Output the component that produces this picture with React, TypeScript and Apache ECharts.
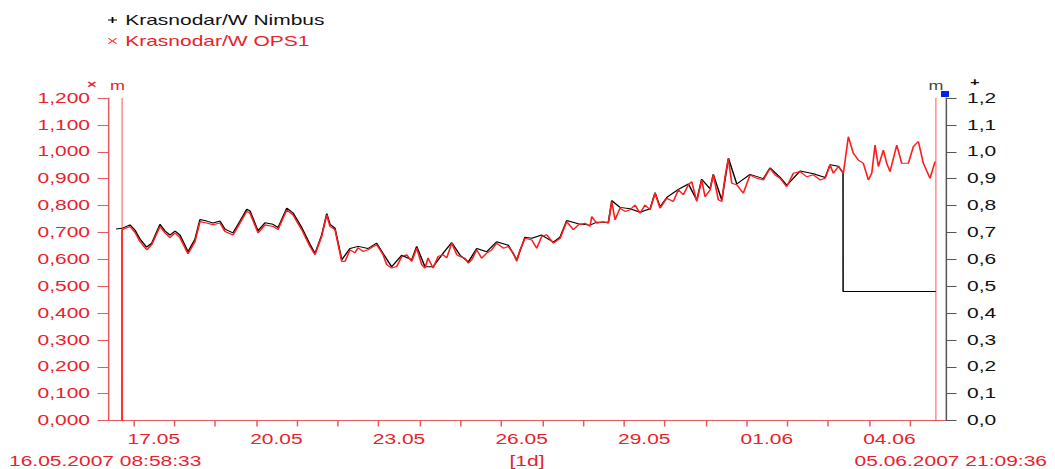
import React, { useEffect, useRef } from "react";
import * as echarts from "echarts";

// ---------- data ----------
const nimbusName = "Krasnodar/W Nimbus";
const opsName = "Krasnodar/W OPS1";
const startLabel = "16.05.2007 08:58:33";
const endLabel = "05.06.2007 21:09:36";
const periodLabel = "[1d]";

// hours after 16.05.2007 00:00
const START_HOUR = 8 + 58 / 60 + 33 / 3600;
const END_HOUR = 20 * 24 + 21 + 9 / 60 + 36 / 3600;

// tick positions (hours after 16.05.2007 00:00)
const labelTickHours = [24, 96, 168, 240, 312, 384, 456];
const dayTickHours = [24, 48, 72, 96, 120, 144, 168, 192, 216, 240, 264, 288, 312, 336, 360, 384, 408, 432, 456, 480];

// marker lines "m" (hours after series start)
const markerHours = [8.2, 486.3];

// OPS1 (hours after series start, value)
const opsHours = [
  8.22, 8.23, 12.92, 15.86, 18.8, 22.73, 25.67, 30.54, 33.48, 36.42,
  39.35, 42.29, 46.99, 51.1, 54.04, 57.97, 61.67, 65.78, 68.72, 73.42,
  77.53, 81.47, 83.41, 88.11, 92.22, 96.92, 99.86, 104.97, 108.66, 113.77,
  118.65, 121.59, 125.52, 128.46, 130.4, 133.33, 137.27, 139.21, 142.14, 145.08,
  146.84, 149.78, 152.72, 155.65, 157.83, 159.76, 161.53, 163.7, 166.64, 169.57,
  172.51, 175.45, 178.39, 181.32, 184.26, 186.2, 187.96, 190.9, 193.83, 196.77,
  198.94, 201.88, 204.82, 206.75, 209.69, 211.63, 213.63, 216.56, 219.5, 222.44,
  225.37, 228.31, 232.19, 235.13, 238.06, 240.06, 242.0, 244.94, 248.87, 251.81,
  254.74, 257.68, 261.56, 265.49, 269.43, 273.31, 276.24, 280.18, 283.11, 284.11,
  287.05, 290.93, 293.86, 295.86, 297.8, 300.73, 303.67, 306.61, 309.54, 312.48,
  315.42, 318.35, 321.29, 324.23, 328.16, 332.04, 334.98, 337.91, 340.85, 342.85,
  345.79, 348.72, 350.66, 353.6, 355.54, 358.48, 360.47, 362.41, 364.35, 366.35,
  369.28, 373.16, 377.09, 381.03, 384.91, 388.84, 391.78, 394.72, 398.65, 402.53,
  406.46, 410.4, 414.28, 418.21, 421.15, 424.08, 426.02, 428.96, 431.9, 434.83,
  437.77, 440.71, 443.64, 446.58, 448.58, 450.52, 452.46, 455.39, 457.39, 459.32,
  463.26, 466.2, 470.07, 473.01, 475.95, 478.89, 482.82, 485.76,
];
const opsValues = [
  0, 0.71, 0.722, 0.7, 0.666, 0.635, 0.654, 0.722, 0.698, 0.68,
  0.698, 0.68, 0.62, 0.666, 0.74, 0.735, 0.728, 0.735, 0.703, 0.69,
  0.735, 0.778, 0.772, 0.698, 0.728, 0.722, 0.71, 0.784, 0.765, 0.71,
  0.647, 0.617, 0.685, 0.765, 0.722, 0.71, 0.592, 0.592, 0.635, 0.624,
  0.643, 0.629, 0.635, 0.647, 0.654, 0.635, 0.617, 0.58, 0.567, 0.573,
  0.61, 0.617, 0.592, 0.641, 0.58, 0.567, 0.605, 0.567, 0.61, 0.617,
  0.605, 0.66, 0.617, 0.61, 0.604, 0.585, 0.598, 0.635, 0.604, 0.623,
  0.635, 0.66, 0.641, 0.647, 0.623, 0.592, 0.635, 0.678, 0.672, 0.641,
  0.685, 0.691, 0.66, 0.678, 0.74, 0.71, 0.728, 0.734, 0.722, 0.759,
  0.734, 0.74, 0.734, 0.815, 0.747, 0.79, 0.778, 0.784, 0.802, 0.771,
  0.802, 0.784, 0.846, 0.79, 0.827, 0.815, 0.858, 0.84, 0.877, 0.889,
  0.815, 0.895, 0.833, 0.858, 0.914, 0.821, 0.815, 0.907, 0.975, 0.883,
  0.877, 0.846, 0.914, 0.901, 0.895, 0.938, 0.914, 0.901, 0.87, 0.92,
  0.926, 0.907, 0.914, 0.895, 0.901, 0.951, 0.92, 0.945, 0.92, 1.056,
  0.994, 0.969, 0.957, 0.895, 0.92, 1.025, 0.945, 1.006, 0.957, 0.926,
  1.025, 0.957, 0.957, 1.019, 1.038, 0.957, 0.901, 0.963,
];

// Nimbus (hours after series start, value)
const nimbusHours = [
  4.7, 8.2, 12.9, 15.9, 18.8, 22.7, 25.7, 30.5, 33.5, 36.4,
  39.4, 42.3, 47.0, 51.1, 54.0, 58.0, 61.7, 65.8, 68.7, 73.4,
  77.5, 81.5, 83.4, 88.1, 92.2, 96.9, 99.9, 105.0, 108.7, 113.8,
  118.7, 121.6, 125.5, 128.5, 130.4, 133.3, 137.3, 142.1, 147.0, 152.7,
  157.8, 161.5, 166.6, 172.5, 178.4, 181.3, 186.2, 190.9, 196.8, 201.9,
  206.8, 211.6, 216.6, 222.4, 228.3, 235.1, 240.1, 244.9, 248.9, 254.7,
  261.6, 265.5, 269.4, 276.2, 283.1, 287.1, 293.9, 295.9, 300.7, 306.6,
  312.5, 318.4, 321.3, 324.2, 328.2, 335.0, 340.9, 345.8, 348.7, 353.6,
  355.5, 360.5, 364.4, 369.3, 377.1, 384.9, 388.8, 394.7, 398.7, 406.5,
  414.3, 421.2, 424.1, 429.0, 431.7, 431.75, 486.3,
];
const nimbusValues = [
  0.713, 0.715, 0.728, 0.708, 0.675, 0.645, 0.66, 0.73, 0.705, 0.69,
  0.705, 0.69, 0.628, 0.675, 0.748, 0.742, 0.735, 0.742, 0.712, 0.698,
  0.742, 0.786, 0.78, 0.706, 0.736, 0.73, 0.718, 0.79, 0.772, 0.718,
  0.655, 0.622, 0.69, 0.77, 0.73, 0.716, 0.598, 0.64, 0.648, 0.64,
  0.66, 0.622, 0.572, 0.615, 0.598, 0.648, 0.572, 0.572, 0.622, 0.662,
  0.615, 0.59, 0.64, 0.628, 0.665, 0.652, 0.598, 0.682, 0.678, 0.69,
  0.664, 0.682, 0.744, 0.732, 0.727, 0.738, 0.738, 0.818, 0.793, 0.788,
  0.775, 0.788, 0.848, 0.795, 0.83, 0.86, 0.88, 0.82, 0.898, 0.862,
  0.916, 0.82, 0.976, 0.88, 0.916, 0.9, 0.94, 0.905, 0.875, 0.928,
  0.918, 0.904, 0.952, 0.946, 0.922, 0.48, 0.48,
];

// ---------- styling ----------
const W = 1055;
const H = 469;
const INNER_W = 704;
const SX = W / INNER_W; // the reference is stretched horizontally
const FONT = "'Liberation Sans', Arial, sans-serif";
const RED = "#e8222b";
const RED_AXIS = "#e65a5f";
const RED_LINE = "#ff1c1c";
const DARK = "#111111";
const GREY_AXIS = "#555555";
const LABEL_SHIFT_H = -3.5; // date labels start slightly left of their tick

const PLUS_ICON = "path://M4,0H6V4H10V6H6V10H4V6H0V4H4Z";
const CROSS_ICON = "path://M1,0L5,4L9,0L10,1L6,5L10,9L9,10L5,6L1,10L0,9L4,5L0,1Z";

const px = (x: number) => x / SX; // reference x -> inner x

function dayLabel(h: number): string {
  const d = new Date(2007, 4, 16 + Math.round(h / 24));
  const dd = String(d.getDate()).padStart(2, "0");
  const mm = String(d.getMonth() + 1).padStart(2, "0");
  return dd + "." + mm;
}

export default function App() {
  const ref = useRef<HTMLDivElement>(null);

  useEffect(() => {
    if (!ref.current) return;
    const chart = echarts.init(ref.current, undefined, {
      renderer: "svg",
      width: INNER_W,
      height: H,
    });

    const opsData = opsHours.map((h, i) => [h + START_HOUR, opsValues[i]]);
    const nimbusData = nimbusHours.map((h, i) => [h + START_HOUR, nimbusValues[i]]);

    const option: any = {
      animation: false,
      backgroundColor: "#ffffff",
      textStyle: { fontFamily: FONT },
      grid: {
        left: px(108),
        right: INNER_W - px(946),
        top: 98,
        bottom: H - 420.5,
        containLabel: false,
        outerBoundsMode: "none",
      },
      legend: {
        orient: "vertical",
        left: px(108),
        top: 13,
        padding: 0,
        itemWidth: 7,
        itemHeight: 6,
        itemGap: 7,
        selectedMode: false,
        textStyle: { fontSize: 14, fontFamily: FONT, color: DARK },
        data: [
          { name: nimbusName, icon: PLUS_ICON, textStyle: { color: DARK } },
          { name: opsName, icon: CROSS_ICON, textStyle: { color: RED } },
        ],
      },
      xAxis: {
        type: "value",
        min: START_HOUR,
        max: END_HOUR,
        name: periodLabel,
        nameLocation: "middle",
        nameGap: 34,
        nameTextStyle: { color: RED, fontSize: 14, fontFamily: FONT },
        splitLine: { show: false },
        axisLine: { show: true, lineStyle: { color: RED_AXIS, width: 1 } },
        axisTick: {
          show: true,
          length: 6,
          customValues: dayTickHours,
          lineStyle: { color: RED_AXIS, width: 1 },
        },
        axisLabel: {
          show: true,
          customValues: labelTickHours.map((h) => h + LABEL_SHIFT_H),
          align: "left",
          margin: 12,
          color: RED,
          fontSize: 14,
          fontFamily: FONT,
          formatter: (v: number) => dayLabel(v),
        },
      },
      yAxis: [
        {
          type: "value",
          position: "left",
          min: 0,
          max: 1.2,
          interval: 0.1,
          splitLine: { show: false },
          axisLine: { show: true, lineStyle: { color: RED_AXIS, width: 1 } },
          axisTick: { show: true, length: 7, lineStyle: { color: RED_AXIS } },
          axisLabel: {
            margin: 12,
            color: RED,
            fontSize: 14,
            fontFamily: FONT,
            formatter: (v: number) => v.toFixed(3).replace(".", ","),
          },
        },
        {
          type: "value",
          position: "right",
          min: 0,
          max: 1.2,
          interval: 0.1,
          splitLine: { show: false },
          axisLine: { show: true, lineStyle: { color: GREY_AXIS, width: 1 } },
          axisTick: { show: true, length: 7, lineStyle: { color: GREY_AXIS } },
          axisLabel: {
            margin: 14,
            color: DARK,
            fontSize: 14,
            fontFamily: FONT,
            formatter: (v: number) => v.toFixed(1).replace(".", ","),
          },
        },
      ],
      series: [
        {
          name: nimbusName,
          type: "line",
          yAxisIndex: 1,
          data: nimbusData,
          color: "#000000",
          showSymbol: false,
          symbol: "none",
          lineStyle: { color: "#000000", width: 1 },
          z: 2,
        },
        {
          name: opsName,
          type: "line",
          yAxisIndex: 0,
          data: opsData,
          color: RED_LINE,
          showSymbol: false,
          symbol: "none",
          lineStyle: { color: RED_LINE, width: 1.1 },
          z: 3,
          markLine: {
            silent: true,
            symbol: ["none", "none"],
            lineStyle: { color: RED_LINE, type: "dotted", width: 1 },
            label: {
              show: true,
              position: "end",
              formatter: "m",
              fontSize: 12,
              distance: 6,
              fontFamily: FONT,
            },
            data: [
              { xAxis: markerHours[0] + START_HOUR, label: { color: RED, offset: [-3, 0] } },
              { xAxis: markerHours[1] + START_HOUR, label: { color: "#444444" } },
            ],
          },
        },
      ],
      graphic: [
        {
          type: "text",
          left: px(87),
          top: 79,
          style: { text: "×", fill: RED, fontSize: 11, fontFamily: FONT, fontWeight: "bold" },
        },
        {
          type: "text",
          left: px(970),
          top: 77,
          style: { text: "+", fill: DARK, fontSize: 11, fontFamily: FONT, fontWeight: "bold" },
        },
        {
          type: "rect",
          shape: { x: px(941), y: 91, width: px(949) - px(941), height: 6 },
          style: { fill: "#0022ee" },
          z: 10,
        },
        {
          type: "text",
          x: px(9),
          y: 461.5,
          style: {
            text: startLabel,
            fill: RED,
            fontSize: 14,
            fontFamily: FONT,
            align: "left",
            verticalAlign: "middle",
          },
        },
        {
          type: "text",
          x: px(1047),
          y: 461.5,
          style: {
            text: endLabel,
            fill: RED,
            fontSize: 14,
            fontFamily: FONT,
            align: "right",
            verticalAlign: "middle",
          },
        },
      ],
    };

    chart.setOption(option);
    return () => {
      chart.dispose();
    };
  }, []);

  return (
    <div
      style={{
        position: "absolute",
        left: 0,
        top: 0,
        width: W,
        height: H,
        overflow: "hidden",
        background: "#ffffff",
      }}
    >
      <div
        ref={ref}
        style={{
          width: INNER_W,
          height: H,
          transform: `scaleX(${SX})`,
          transformOrigin: "0 0",
        }}
      />
    </div>
  );
}
